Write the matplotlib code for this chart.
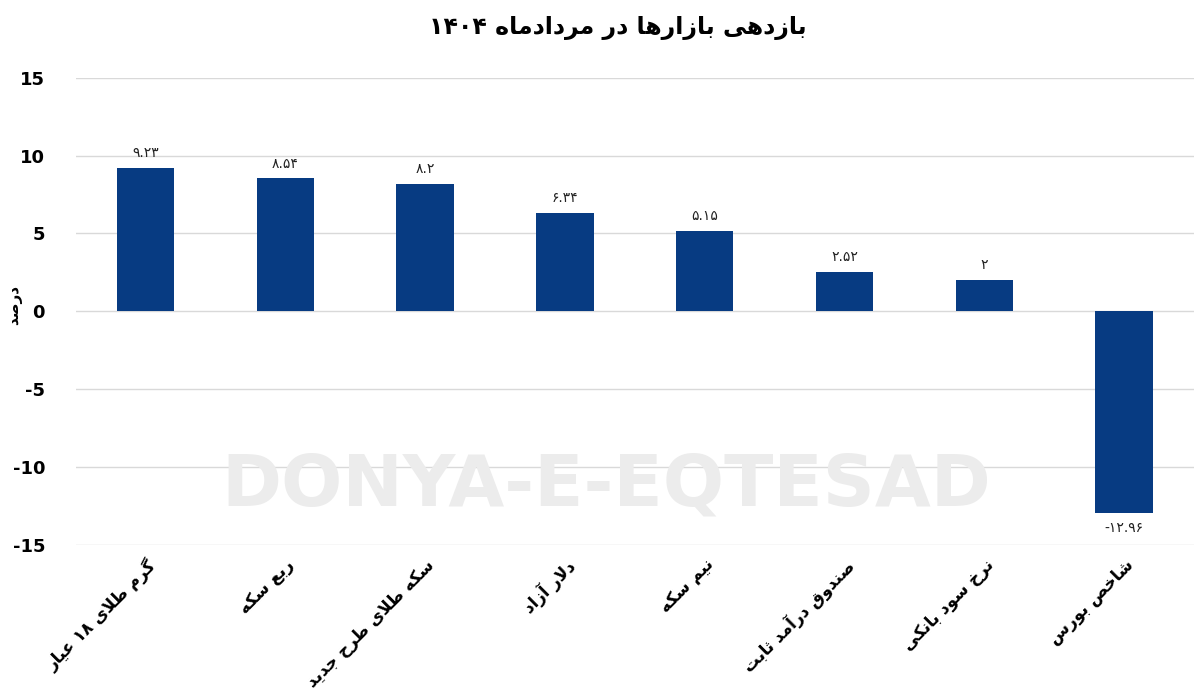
import re
import matplotlib
matplotlib.use("Agg")
import matplotlib.pyplot as plt

categories = ["گرم طلای ۱۸ عیار", "ربع سکه", "سکه طلای طرح جدید", "دلار آزاد",
              "نیم سکه", "صندوق درآمد ثابت", "نرخ سود بانکی", "شاخص بورس"]
values = [9.23, 8.54, 8.2, 6.34, 5.15, 2.52, 2, -12.96]
yticks = [-15, -10, -5, 0, 5, 10, 15]
title = "بازدهی بازارها در مردادماه ۱۴۰۴"
ylabel = "درصد"

# ---- minimal Arabic/Persian shaper ----
F4 = {'ب':0xFE8F,'ت':0xFE95,'ث':0xFE99,'ج':0xFE9D,'ح':0xFEA1,'خ':0xFEA5,'س':0xFEB1,
      'ش':0xFEB5,'ص':0xFEB9,'ض':0xFEBD,'ط':0xFEC1,'ظ':0xFEC5,'ع':0xFEC9,'غ':0xFECD,
      'ف':0xFED1,'ق':0xFED5,'ک':0xFB8E,'گ':0xFB92,'ل':0xFEDD,'م':0xFEE1,'ن':0xFEE5,
      'ه':0xFEE9,'ی':0xFBFC,'پ':0xFB56,'چ':0xFB7A}
F2 = {'ا':0xFE8D,'آ':0xFE81,'د':0xFEA9,'ذ':0xFEAB,'ر':0xFEAD,'ز':0xFEAF,'و':0xFEED,'ژ':0xFB8A}

def joins(c):
    return c in F4 or c in F2

def shape(s):
    chars = list(s)
    out = []
    i = 0
    n = len(chars)
    while i < n:
        c = chars[i]
        prev = chars[i-1] if i > 0 else ''
        pc = prev in F4
        if c == 'ل' and i+1 < n and chars[i+1] in ('ا', 'آ'):
            base = 0xFEFB if chars[i+1] == 'ا' else 0xFEF5
            out.append(chr(base + (1 if pc else 0)))
            i += 2
            continue
        nxt = chars[i+1] if i+1 < n else ''
        nc = joins(nxt)
        if c in F4:
            b = F4[c]
            if pc and nc: out.append(chr(b+3))
            elif pc: out.append(chr(b+1))
            elif nc: out.append(chr(b+2))
            else: out.append(chr(b))
        elif c in F2:
            out.append(chr(F2[c] + (1 if pc else 0)))
        else:
            out.append(c)
        i += 1
    t = ''.join(out)
    t = re.sub(r'[۰-۹0-9.]+', lambda m: m.group(0)[::-1], t)
    return t[::-1]

def fa_num(v):
    d = str(v).replace('-', '')
    d = d.translate(str.maketrans('0123456789', '۰۱۲۳۴۵۶۷۸۹'))
    return ('-' if v < 0 else '') + d

plt.rcParams['font.family'] = ['DejaVu Sans']

fig = plt.figure(figsize=(12, 6.94), dpi=100)
ax = fig.add_axes([0.063, 0.215, 0.932, 0.673])
x = list(range(len(values)))
color = '#073b82'
ax.bar(x, values, width=0.41, color=color, zorder=3)
ax.set_ylim(-15, 15)
ax.set_xlim(-0.5, len(values) - 0.5)
ax.set_yticks(yticks)
ax.set_yticklabels([str(t) for t in yticks], fontsize=13, fontweight='bold')
ax.grid(axis='y', color='#d9d9d9', lw=1, zorder=0)
for s in ax.spines.values():
    s.set_visible(False)
ax.tick_params(axis='both', length=0)
ax.tick_params(axis='y', pad=22)
ax.tick_params(axis='x', pad=8)
ax.set_xticks(x)
ax.set_xticklabels([shape(c) for c in categories], rotation=45, ha='right',
                   rotation_mode='anchor', fontsize=12, fontweight='bold')
for lbl in ax.get_xticklabels():
    lbl.set_x(lbl.get_position()[0])
for xi, v in zip(x, values):
    off = 0.5 if v >= 0 else -0.5
    ax.text(xi, v + off, fa_num(v), ha='center', va='bottom' if v >= 0 else 'top',
            fontsize=10, color='#222222')
fig.text(0.012, 0.56, shape(ylabel), rotation=90, ha='center', va='center',
         fontsize=11, fontweight='bold')
fig.text(0.515, 0.96, shape(title), ha='center', va='center', fontsize=17, fontweight='bold')
fig.text(0.505, 0.3, 'DONYA-E-EQTESAD', ha='center', va='center', fontsize=52,
         fontweight='bold', color='#ececec', zorder=0)
fig.savefig('out.png', dpi=100)
